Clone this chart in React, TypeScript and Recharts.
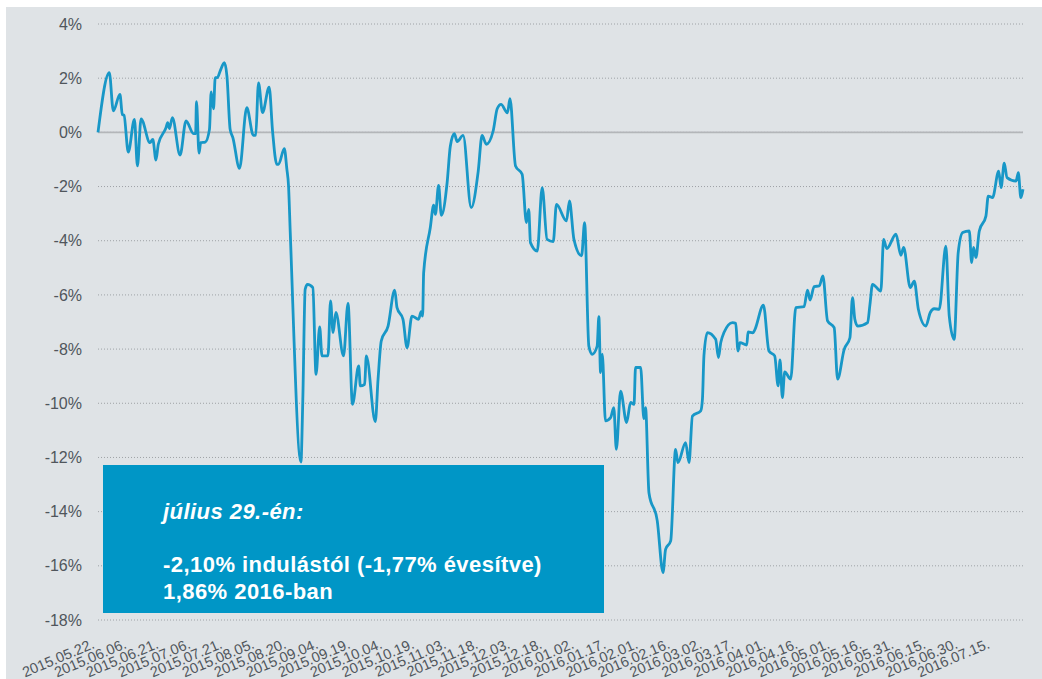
import { LineChart, Line, XAxis, YAxis, CartesianGrid, ReferenceLine } from "recharts";

// x axis: days since launch (2015.05.22.), labels every 15 days
const tickDays = [0, 15, 30, 45, 60, 75, 90, 105, 120, 135, 150, 165, 180, 195, 210, 225, 240, 255, 270, 285, 300, 315, 330, 345, 360, 375, 390, 405, 420];
const tickLabels = [
  "2015.05.22.", "2015.06.06.", "2015.06.21.", "2015.07.06.", "2015.07.21.", "2015.08.05.",
  "2015.08.20.", "2015.09.04.", "2015.09.19.", "2015.10.04.", "2015.10.19.", "2015.11.03.",
  "2015.11.18.", "2015.12.03.", "2015.12.18.", "2016.01.02.", "2016.01.17.", "2016.02.01.",
  "2016.02.16.", "2016.03.02.", "2016.03.17.", "2016.04.01.", "2016.04.16.", "2016.05.01.",
  "2016.05.16.", "2016.05.31.", "2016.06.15.", "2016.06.30.", "2016.07.15.",
];
const yTicks = [-18, -16, -14, -12, -10, -8, -6, -4, -2, 0, 2, 4];

// performance since launch, %
const dayOffset = [
  0, 5.3, 7.2, 10.3, 11.4, 12.2, 14.2, 17.1, 18.5, 20.2, 24.4, 25.7, 27.2, 28.3, 31.9, 32.7, 33.5, 34.9,
  38.5, 41.3, 44.8, 45.8, 46.2, 47.4, 48.2, 50.3, 52.3, 53.1, 54.2, 55.0, 56.0, 57.3, 59.3, 60.5, 62.0,
  63.3, 66.4, 69.8, 72.9, 74.0, 75.3, 77.2, 80.3, 81.9, 83.9, 84.7, 87.4, 88.6, 89.4, 90.2, 95.2, 96.1,
  97.2, 98.3, 100.8, 102.3, 104.0, 105.1, 107.9, 109.1, 110.3, 111.6, 115.2, 117.3, 119.4, 122.3, 123.1,
  125.1, 125.9, 130.1, 131.4, 132.9, 136.1, 139.2, 140.3, 143.1, 145.0, 147.3, 150.4, 151.6, 152.3, 152.8,
  155.9, 157.5, 158.3, 159.8, 161.1, 163.8, 165.3, 167.2, 168.5, 171.3, 175.1, 178.4, 180.2, 182.2, 185.4,
  187.3, 189.1, 192.1, 193.3, 195.9, 199.0, 201.0, 202.1, 202.9, 206.1, 208.4, 210.7, 213.6, 215.1, 219.8,
  221.2, 223.3, 226.9, 228.3, 230.3, 231.9, 234.2, 235.0, 235.8, 236.6, 238.1, 240.5, 242.0, 243.2, 245.2,
  248.0, 249.9, 251.5, 252.2, 254.6, 256.1, 256.9, 258.5, 262.4, 265.1, 266.3, 268.7, 271.0, 272.1, 275.7,
  277.3, 278.9, 282.8, 283.6, 284.3, 285.9, 289.8, 291.1, 292.2, 293.7, 297.7, 299.2, 300.3, 301.2, 304.4,
  305.0, 307.2, 308.1, 312.2, 314.8, 317.5, 319.1, 320.0, 321.1, 322.2, 325.0, 327.4, 331.3, 332.9, 334.1,
  336.0, 338.4, 340.1, 342.3, 345.4, 347.0, 350.1, 352.8, 354.0, 355.1, 356.4, 361.1, 362.2, 363.4, 367.3,
  368.6, 370.1, 374.4, 376.7, 378.0, 381.1, 383.0, 384.9, 388.4, 390.5, 392.3, 394.7, 397.8, 399.4, 401.7,
  403.6, 405.7, 408.8, 409.9, 410.8, 411.9, 413.5, 416.6, 417.7, 419.7, 422.6, 423.7, 425.2, 426.5, 430.7,
  431.8, 433.0, 434.0,
];
const returnPct = [
  0, 2.2, 0.79, 1.4, 0.66, 0.63, -0.73, 0.48, -1.24, 0.5, -0.38, -0.26, -1.02, -0.44, 0.17, 0.36, 0.14, 0.54,
  -0.84, 0.42, -0.05, -0.05, 1.13, -0.77, -0.38, -0.36, 0.11, 1.49, 0.87, 2.02, 2.02, 2.26, 2.57, 2.08, 0.11,
  -0.2, -1.33, 0.91, -0.11, -0.1, 1.83, 0.73, 1.67, 0.05, -1.18, -1.18, -0.6, -1.35, -1.98, -3.69, -12.17, -9.85,
  -5.79, -5.61, -5.73, -8.93, -7.18, -8.25, -8.25, -6.22, -7.39, -6.65, -8.25, -6.31, -10.04, -8.62, -9.36,
  -9.3, -8.25, -10.68, -9.11, -7.7, -7.15, -5.82, -6.47, -6.9, -7.95, -6.78, -6.9, -6.62, -6.78, -5.18,
  -3.52, -2.69, -3.03, -1.96, -3.06, -1.86, -0.51, -0.05, -0.34, -0.11, -2.78, -1.43, -0.11, -0.44, 0.05,
  0.87, 1.03, 0.72, 1.24, -1.24, -1.55, -3.33, -2.84, -4.07, -4.38, -2.04, -3.95, -4.03, -2.66, -3.27,
  -2.53, -3.95, -4.56, -3.33, -7.89, -8.19, -7.89, -6.8, -8.87, -8.19, -10.65, -10.53, -10.16, -11.7, -9.55,
  -10.71, -9.97, -10.04, -8.68, -8.68, -10.57, -10.16, -13.3, -14.34, -16.25, -15.39, -15.08, -11.7, -12.19, -11.45,
  -12.19, -10.47, -10.28, -9.85, -8.25, -7.39, -7.64, -8.31, -7.76, -7.39, -7.02, -7.05, -8.07, -7.76, -7.85,
  -7.37, -7.4, -7.3, -6.38, -8.07, -8.25, -9.36, -8.4, -9.79, -8.84, -9.11, -6.47, -6.43, -5.82, -6.19,
  -5.69, -5.67, -5.3, -6.96, -7.21, -9.11, -8.01, -7.58, -6.1, -6.9, -7.15, -7.02, -6.35, -5.61, -5.86,
  -3.95, -4.29, -3.76, -4.54, -4.25, -5.73, -5.49, -6.53, -7.15, -6.65, -6.51, -6.53, -4.2, -6.78, -7.64,
  -4.44, -3.7, -3.64, -4.81, -4.25, -4.62, -3.64, -3.09, -2.35, -2.41, -1.43, -2.04, -1.14, -1.67, -1.8,
  -1.49, -2.41, -2.1,
];

const chartData = dayOffset.map((d, i) => ({ day: d, value: returnPct[i] }));

const FONT = "'Liberation Sans', Arial, sans-serif";
const TEXT_COLOR = "#50565c";

const DateTick = ({ x, y, payload }: any) => {
  const idx = tickDays.indexOf(payload.value);
  return (
    <g transform={`translate(${x},${y})`}>
      <text
        x={-10}
        y={0}
        dy={17}
        textAnchor="end"
        transform="rotate(-23)"
        fontSize={14.5}
        fontFamily={FONT}
        fill={TEXT_COLOR}
      >
        {idx >= 0 ? tickLabels[idx] : ""}
      </text>
    </g>
  );
};

export default function App() {
  return (
    <div
      style={{
        position: "absolute",
        left: 6,
        top: 7,
        width: 1036,
        height: 672,
        background: "#dfe3e6",
        fontFamily: FONT,
      }}
    >
      <LineChart
        width={1036}
        height={672}
        data={chartData}
        margin={{ top: 17, right: 19, left: 0, bottom: 0 }}
      >
        <CartesianGrid vertical={false} stroke="#9ea2a6" strokeDasharray="1 2" />
        <XAxis
          dataKey="day"
          type="number"
          domain={[0, 434]}
          ticks={tickDays}
          interval={0}
          tick={<DateTick />}
          tickLine={false}
          axisLine={false}
          height={59}
        />
        <YAxis
          type="number"
          domain={[-18, 4]}
          ticks={yTicks}
          interval={0}
          tickFormatter={(v: number) => `${v}%`}
          tick={{ fontSize: 16, fill: TEXT_COLOR, fontFamily: FONT }}
          tickLine={false}
          axisLine={false}
          tickMargin={10}
          width={92}
        />
        <ReferenceLine y={0} stroke="#b3b6b9" strokeWidth={1.8} />
        <Line
          type="monotone"
          dataKey="value"
          stroke="#1897c7"
          strokeWidth={2.8}
          dot={false}
          isAnimationActive={false}
        />
      </LineChart>
      <div
        style={{
          position: "absolute",
          left: 97,
          top: 458,
          width: 501,
          height: 148,
          background: "#0096c6",
        }}
      >
        <svg width={501} height={148} style={{ display: "block" }}>
          <g fill="#ffffff" fontFamily={FONT} fontWeight="bold" fontSize={22} letterSpacing={0.45}>
            <text x={60} y={54} fontStyle="italic">július 29.-én:</text>
            <text x={60} y={107}>-2,10% indulástól (-1,77% évesítve)</text>
            <text x={60} y={133.5}>1,86% 2016-ban</text>
          </g>
        </svg>
      </div>
    </div>
  );
}
